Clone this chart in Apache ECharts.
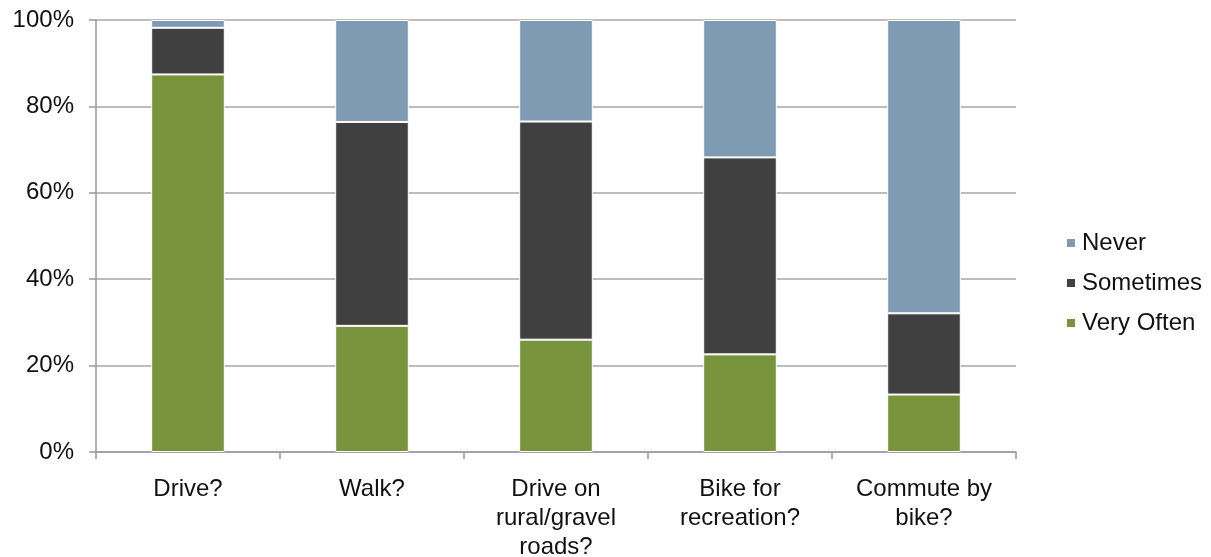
<!DOCTYPE html>
<html>
<head>
<meta charset="utf-8">
<script src="https://cdn.jsdelivr.net/npm/echarts@6/dist/echarts.min.js"></script>
<style>html,body{margin:0;padding:0;background:#fff}#c{width:1211px;height:557px}</style>
</head>
<body>
<div id="c"></div>
<script>
const categories = ["Drive?", "Walk?", "Drive on\nrural/gravel\nroads?", "Bike for\nrecreation?", "Commute by\nbike?"];
const veryOften = [87.4, 29.2, 26.0, 22.6, 13.3];
const sometimes = [10.8, 47.2, 50.5, 45.6, 18.8];
const never = [1.8, 23.6, 23.5, 31.8, 67.9];
const yTicks = [0, 20, 40, 60, 80, 100];

const font = "Arial, 'Liberation Sans', sans-serif";
const chart = echarts.init(document.getElementById('c'), null, {renderer: 'canvas'});
const seg = (name, data, color) => ({
  name, type: 'bar', stack: 'all', data, barWidth: '40%',
  itemStyle: {color, borderColor: '#ffffff', borderWidth: 1},
  emphasis: {disabled: true}
});
chart.setOption({
  animation: false,
  grid: {left: 96, right: 195, top: 20, bottom: 105, outerBoundsMode: 'none', containLabel: false},
  legend: {
    orient: 'vertical', left: 1060, top: 226, itemGap: 16,
    itemWidth: 10, itemHeight: 10, icon: 'rect',
    data: ['Never', 'Sometimes', 'Very Often'],
    textStyle: {fontFamily: font, fontSize: 24, color: '#111', padding: [0, 0, 0, 1]}
  },
  xAxis: {
    type: 'category', data: categories,
    axisLine: {lineStyle: {color: '#999', width: 1.5}},
    axisTick: {show: true, length: 7, lineStyle: {color: '#999', width: 1.5}},
    axisLabel: {fontFamily: font, fontSize: 24, color: '#111', lineHeight: 29, margin: 23, interval: 0}
  },
  yAxis: {
    type: 'value', min: yTicks[0], max: yTicks[yTicks.length - 1], interval: 20,
    axisLine: {show: true, lineStyle: {color: '#999', width: 1.5}},
    axisTick: {show: true, length: 7, lineStyle: {color: '#999', width: 1.5}},
    splitLine: {lineStyle: {color: '#a6a6a6', width: 1.5}},
    axisLabel: {fontFamily: font, fontSize: 24, color: '#111', margin: 22, formatter: '{value}%'}
  },
  series: [
    seg('Very Often', veryOften, '#77933c'),
    seg('Sometimes', sometimes, '#404040'),
    seg('Never', never, '#7f9ab3')
  ]
});
</script>
</body>
</html>
